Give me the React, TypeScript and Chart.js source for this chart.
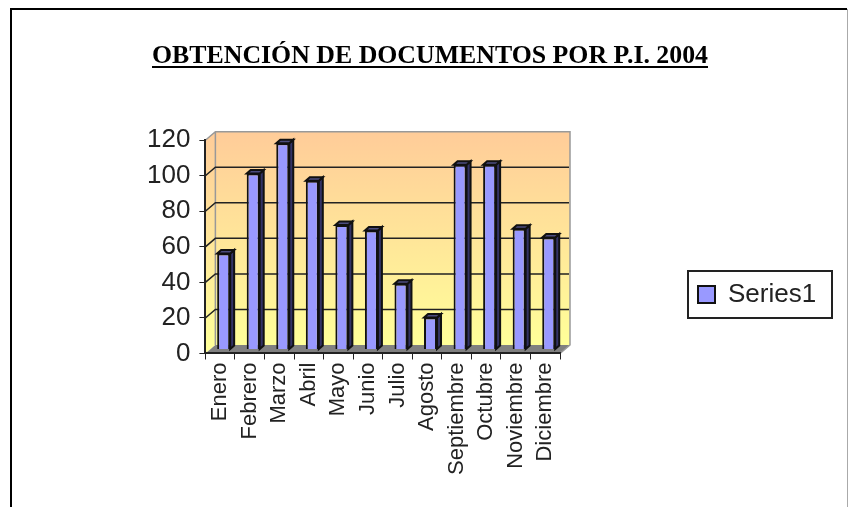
import React, { useEffect, useRef } from "react";
import { Chart, registerables } from "chart.js";

Chart.register(...registerables);

const categories = ["Enero", "Febrero", "Marzo", "Abril", "Mayo", "Junio", "Julio", "Agosto", "Septiembre", "Octubre", "Noviembre", "Diciembre"];
const seriesValues = [54, 99, 116, 95, 70, 67, 37, 18, 104, 104, 68, 63];
const titleText = "OBTENCIÓN DE DOCUMENTOS POR P.I. 2004";
const seriesName = "Series1";

const WALL_DX = 10;
const WALL_DY = 8.5;
const BAR_DX = 3.5;
const BAR_DY = 4;
const DEPTH_X = 4;
const DEPTH_Y = 3.5;

const scene = {
  id: "scene",
  afterLayout(chart: any) {
    const lg = chart.legend;
    lg.left = 688; lg.right = 832; lg.top = 271; lg.bottom = 318;
    lg.width = 144; lg.height = 47;
    const t = chart.titleBlock;
    t.left = 152; t.right = 708; t.width = 556;
  },
  beforeDraw(chart: any) {
    const c = chart.ctx;
    const a = chart.chartArea;
    const y = chart.scales.y;
    c.save();
    c.fillStyle = "#fff";
    c.fillRect(0, 0, chart.width, chart.height);
    // page frame
    c.strokeStyle = "#000";
    c.lineWidth = 2;
    c.beginPath();
    c.moveTo(11, 507); c.lineTo(11, 9); c.lineTo(847, 9);
    c.stroke();
    c.strokeStyle = "#aaa";
    c.lineWidth = 1;
    c.beginPath();
    c.moveTo(847.5, 9); c.lineTo(847.5, 507);
    c.stroke();
    // walls
    const g = c.createLinearGradient(0, a.top - WALL_DY, 0, a.bottom - WALL_DY);
    g.addColorStop(0, "#FFCC99");
    g.addColorStop(1, "#FFFF99");
    c.fillStyle = g;
    c.fillRect(a.left + WALL_DX, a.top - WALL_DY, a.width, a.height);
    c.beginPath();
    c.moveTo(a.left, a.top); c.lineTo(a.left + WALL_DX, a.top - WALL_DY);
    c.lineTo(a.left + WALL_DX, a.bottom - WALL_DY); c.lineTo(a.left, a.bottom);
    c.closePath();
    c.fill();
    c.fillStyle = "#808080";
    c.beginPath();
    c.moveTo(a.left, a.bottom); c.lineTo(a.left + WALL_DX, a.bottom - WALL_DY);
    c.lineTo(a.right + WALL_DX, a.bottom - WALL_DY); c.lineTo(a.right, a.bottom);
    c.closePath();
    c.fill();
    c.strokeStyle = "#999";
    c.lineWidth = 1.5;
    c.beginPath();
    c.moveTo(a.left, a.top); c.lineTo(a.left + WALL_DX, a.top - WALL_DY);
    c.lineTo(a.right + WALL_DX, a.top - WALL_DY);
    c.lineTo(a.right + WALL_DX, a.bottom - WALL_DY);
    c.lineTo(a.right, a.bottom);
    c.moveTo(a.left + WALL_DX, a.top - WALL_DY);
    c.lineTo(a.left + WALL_DX, a.bottom - WALL_DY);
    c.stroke();
    // gridlines on left wall and back wall
    c.strokeStyle = "#222";
    c.lineWidth = 1.5;
    y.ticks.forEach((t: any) => {
      if (t.value === 0 || t.value === 120) return;
      const p = y.getPixelForValue(t.value);
      c.beginPath();
      c.moveTo(a.left, p);
      c.lineTo(a.left + WALL_DX, p - WALL_DY);
      c.lineTo(a.right + WALL_DX - 1, p - WALL_DY);
      c.stroke();
    });
    c.restore();
  },
  beforeDatasetsDraw(chart: any) {
    const c = chart.ctx;
    c.save();
    c.translate(BAR_DX, -BAR_DY);
    chart.getDatasetMeta(0).data.forEach((b: any) => {
      const l = b.x - b.width / 2;
      const r = b.x + b.width / 2;
      c.lineWidth = 2;
      c.strokeStyle = "#111";
      c.fillStyle = "#333366";
      c.beginPath();
      c.moveTo(r, b.y); c.lineTo(r + DEPTH_X, b.y - DEPTH_Y);
      c.lineTo(r + DEPTH_X, b.base - DEPTH_Y); c.lineTo(r, b.base);
      c.closePath(); c.fill(); c.stroke();
      c.fillStyle = "#4d4d80";
      c.beginPath();
      c.moveTo(l, b.y); c.lineTo(l + DEPTH_X, b.y - DEPTH_Y);
      c.lineTo(r + DEPTH_X, b.y - DEPTH_Y); c.lineTo(r, b.y);
      c.closePath(); c.fill(); c.stroke();
    });
  },
  afterDatasetsDraw(chart: any) {
    chart.ctx.restore();
  },
  afterDraw(chart: any) {
    const c = chart.ctx;
    c.save();
    c.strokeStyle = "#000";
    c.lineWidth = 2;
    c.beginPath();
    c.moveTo(152, 67); c.lineTo(708, 67);
    c.stroke();
    const lg = chart.legend;
    c.strokeStyle = "#222";
    c.lineWidth = 2;
    c.strokeRect(lg.left, lg.top, lg.width, lg.height);
    c.restore();
  },
};

export default function App() {
  const ref = useRef<HTMLCanvasElement>(null);
  useEffect(() => {
    const sans = "'Liberation Sans', Arial, sans-serif";
    const chart = new Chart(ref.current!, {
      type: "bar",
      data: {
        labels: categories,
        datasets: [{
          label: seriesName,
          data: seriesValues,
          backgroundColor: "#9999FF",
          borderColor: "#111",
          borderWidth: 2,
          barPercentage: 0.44,
          categoryPercentage: 1,
        }],
      },
      plugins: [scene],
      options: {
        animation: false,
        responsive: false,
        layout: { padding: { left: 138, right: 289, top: 0, bottom: 29 } },
        plugins: {
          tooltip: { enabled: false },
          title: {
            display: true,
            text: titleText,
            color: "#000",
            font: { family: "'Liberation Serif', serif", size: 26, weight: "bold" },
            padding: { top: 41, bottom: 68 },
          },
          legend: {
            position: "chartArea",
            align: "center",
            labels: {
              color: "#222",
              font: { family: sans, size: 26 },
              boxWidth: 17,
              boxHeight: 17,
              padding: 10,
            },
          },
        },
        scales: {
          x: {
            grid: { drawOnChartArea: false, color: "#222", tickLength: 6 },
            border: { color: "#222", width: 2 },
            ticks: { color: "#222", font: { family: sans, size: 22 }, minRotation: 90, maxRotation: 90, autoSkip: false, padding: 3 },
          },
          y: {
            min: 0,
            max: 120,
            grid: { drawOnChartArea: false, color: "#222", tickLength: 6 },
            border: { color: "#222", width: 2 },
            ticks: { color: "#222", stepSize: 20, font: { family: sans, size: 26 }, padding: 9 },
          },
        },
      } as any,
    });
    return () => chart.destroy();
  }, []);
  return <canvas ref={ref} width={849} height={507} style={{ position: "fixed", left: 0, top: 0, display: "block" }} />;
}
